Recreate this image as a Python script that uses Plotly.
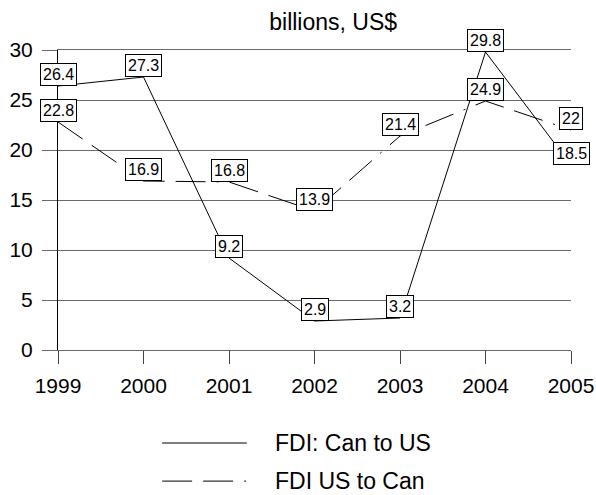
import plotly.graph_objects as go

years = [1999, 2000, 2001, 2002, 2003, 2004, 2005]
can_to_us = [26.4, 27.3, 9.2, 2.9, 3.2, 29.8, 18.5]
us_to_can = [22.8, 16.9, 16.8, 13.9, 21.4, 24.9, 22]
series_names = ["FDI: Can to US", "FDI US to Can"]
title_text = "billions, US$"
y_ticks = [0, 5, 10, 15, 20, 25, 30]

FONT = "Liberation Sans, Arial, sans-serif"
DASH = "30px,11px,30px,11px,2px,11px"
GRID = "#6a6a6a"

fig = go.Figure()
fig.add_trace(go.Scatter(x=years, y=can_to_us, mode="lines", name=series_names[0],
                         line=dict(color="black", width=1), showlegend=False))
fig.add_trace(go.Scatter(x=years, y=us_to_can, mode="lines", name=series_names[1],
                         line=dict(color="black", width=1, dash=DASH), showlegend=False))

for series in (can_to_us, us_to_can):
    for xv, yv in zip(years, series):
        fig.add_annotation(x=xv, y=yv, text=f"{yv:g}", showarrow=False,
                           xanchor="center", yanchor="bottom",
                           bgcolor="white", bordercolor="black", borderwidth=1,
                           borderpad=2, font=dict(family=FONT, size=16, color="black"))

# legend drawn manually below the plot
legend_rows = [-0.31, -0.437]
dashes = ["solid", DASH]
for name, ry, d in zip(series_names, legend_rows, dashes):
    fig.add_shape(type="line", xref="paper", yref="paper", x0=0.203, x1=0.368, y0=ry, y1=ry,
                  line=dict(color="black", width=1, dash=d))
    fig.add_annotation(xref="paper", yref="paper", x=0.42, y=ry, text=name, showarrow=False,
                       xanchor="left", yanchor="middle",
                       font=dict(family=FONT, size=23, color="black"))

fig.update_layout(
    width=596, height=495,
    margin=dict(l=58, r=25, t=50, b=145, autoexpand=False),
    paper_bgcolor="white", plot_bgcolor="white",
    title=dict(text=title_text, x=0.559, xanchor="center", y=0.956, yanchor="middle",
               yref="container", font=dict(family=FONT, size=23, color="black")),
    font=dict(family=FONT, color="black"),
    hovermode=False,
    xaxis=dict(range=[1999, 2005], tickvals=years, ticks="outside", ticklen=13,
               tickcolor="#444444", showgrid=False, zeroline=False,
               showline=True, linecolor=GRID, linewidth=1, mirror=True,
               ticklabelstandoff=4, automargin=False,
               tickfont=dict(size=21), fixedrange=True),
    yaxis=dict(range=[0, 30], tickvals=y_ticks, ticks="outside", ticklen=15,
               tickcolor=GRID, showgrid=True, gridcolor=GRID, gridwidth=1,
               zeroline=False, showline=True, linecolor="black", linewidth=1,
               ticklabelstandoff=5, automargin=False,
               tickfont=dict(size=21), fixedrange=True),
)

fig.write_html("out.html", config={"displayModeBar": False},
               post_script="document.body.style.margin='0';document.body.style.overflow='hidden';")
